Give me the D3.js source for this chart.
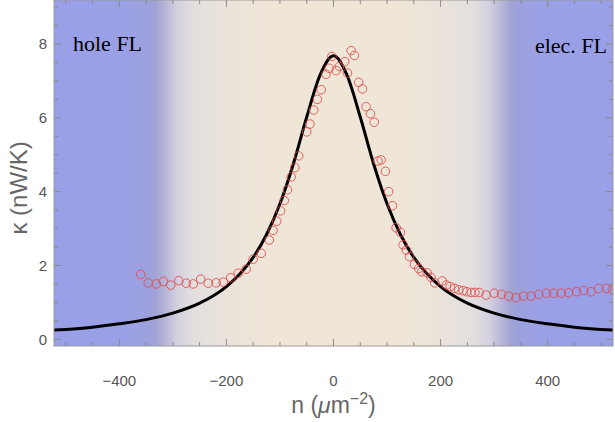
<!DOCTYPE html>
<html>
<head>
<meta charset="utf-8">
<script src="https://cdn.jsdelivr.net/npm/d3@7"></script>
<style>
  body { margin: 0; background: #fff; }
  svg { display: block; }
</style>
</head>
<body>
<svg id="chart" width="615" height="422"></svg>
<script>
// measured points (red circles)
var pointN = [-360, -346, -331, -318, -304, -289, -275, -262, -248, -234, -219, -206, -192, -178, -163, -150, -135, -120,
  -113, -106, -99, -92, -86, -79, -72, -65, -50, -44, -37, -30, -23, -14, -8, -3, 5, 11, 21, 26, 33, 39,
  47, 54, 61, 69, 76, 83, 89, 97, 103, 110, 117, 125, 130, 136, 142, 151, 159, 165, 175, 182, 189, 203, 211,
  218, 226, 234, 242, 249, 257, 264, 272, 285, 300, 314, 327, 341, 355, 369, 383, 398, 411, 425, 439, 454, 467, 481, 495, 510, 521]
var pointK = [1.76, 1.53, 1.50, 1.57, 1.47, 1.59, 1.52, 1.50, 1.63, 1.52, 1.53, 1.55, 1.67, 1.79, 1.90, 2.17, 2.33, 2.69,
  2.95, 3.2, 3.48, 3.76, 4.05, 4.4, 4.65, 4.97, 5.62, 5.83, 6.21, 6.50, 6.76, 7.18, 7.34, 7.66, 7.28, 7.39, 7.52, 7.21, 7.82, 7.69,
  6.96, 6.78, 6.30, 6.11, 5.88, 4.83, 4.86, 4.55, 4.0, 3.62, 3.02, 2.90, 2.56, 2.42, 2.24, 2.03, 1.92, 1.83, 1.80, 1.68, 1.53, 1.58, 1.47,
  1.43, 1.38, 1.34, 1.32, 1.29, 1.27, 1.27, 1.27, 1.20, 1.25, 1.22, 1.17, 1.13, 1.17, 1.17, 1.22, 1.25, 1.25, 1.25, 1.26, 1.29, 1.32, 1.29, 1.38, 1.38, 1.35]

// theory curve (black line)
var curveN = [-522, -450, -400, -350, -300, -250, -200, -175, -150, -125, -100, -75, -50, -25, 0, 25, 50, 75, 100, 125, 150, 175, 200, 250, 300, 350, 400, 450, 522]
var curveK = [0.25, 0.33, 0.42, 0.535, 0.71, 0.98, 1.43, 1.77, 2.22, 2.84, 3.67, 4.75, 6.02, 7.16, 7.68, 7.16, 6.02, 4.75, 3.67, 2.84, 2.22, 1.77, 1.43, 0.98, 0.71, 0.535, 0.42, 0.33, 0.25]

var xTicks = [-400, -200, 0, 200, 400]
var yTicks = [0, 2, 4, 6, 8]

// background shading (blue = Fermi liquid, beige = Dirac fluid)
var bgStops = [[-522, "#9aa0e8"], [-390, "#9aa0e6"], [-345, "#9ca1dc"], [-332, "#a0a3d4"], [-310, "#bcbbd9"],
  [-290, "#d5d1de"], [-262, "#e3dfdf"], [-200, "#ebe3da"], [-120, "#efe6d8"], [0, "#f0e6d6"],
  [120, "#efe6d8"], [200, "#ebe3da"], [262, "#e3dfdf"], [290, "#d5d1de"], [310, "#bcbbd9"],
  [332, "#a0a3d4"], [345, "#9ca1dc"], [390, "#9aa0e6"], [522, "#9aa0e8"]]

var svg = d3.select("#chart")
var margin = {left: 54, right: 2, top: 0, bottom: 76}
var width = 615 - margin.left - margin.right
var height = 422 - margin.top - margin.bottom

var x = d3.scaleLinear().domain([-522, 522]).range([0, width])
var y = d3.scaleLinear().domain([-0.18, 9.19]).range([height, 0])

var g = svg.append("g").attr("transform", `translate(${margin.left},${margin.top})`)

var grad = svg.append("defs").append("linearGradient")
  .attr("id", "bg").attr("x1", "0").attr("x2", "1").attr("y1", "0").attr("y2", "0")
grad.selectAll("stop").data(bgStops).enter().append("stop")
  .attr("offset", d => (x(d[0]) / width))
  .attr("stop-color", d => d[1])

g.append("rect").attr("width", width).attr("height", height).attr("fill", "url(#bg)")

svg.append("clipPath").attr("id", "clip").append("rect").attr("width", width).attr("height", height)
var plot = g.append("g").attr("clip-path", "url(#clip)")

// frame ticks (inside, all four sides)
var tickColor = "#8a8a8a"
var xMinor = d3.range(-500, 501, 50)
var yMinor = d3.range(0, 9.01, 0.5)
function tickLen(v, majors) { return majors.indexOf(v) >= 0 ? 7 : 4 }

xMinor.forEach(function (v) {
  var L = tickLen(v, xTicks)
  g.append("line").attr("x1", x(v)).attr("x2", x(v)).attr("y1", height).attr("y2", height - L).attr("stroke", tickColor)
  g.append("line").attr("x1", x(v)).attr("x2", x(v)).attr("y1", 0).attr("y2", L).attr("stroke", tickColor)
})
yMinor.forEach(function (v) {
  var L = tickLen(v, yTicks)
  g.append("line").attr("y1", y(v)).attr("y2", y(v)).attr("x1", 0).attr("x2", L).attr("stroke", tickColor)
  g.append("line").attr("y1", y(v)).attr("y2", y(v)).attr("x1", width).attr("x2", width - L).attr("stroke", tickColor)
})

g.append("rect").attr("width", width).attr("height", height)
  .attr("fill", "none").attr("stroke", "#999").attr("stroke-width", 1)

// tick labels
g.selectAll(".xl").data(xTicks).enter().append("text")
  .attr("x", d => x(d)).attr("y", height + 40)
  .attr("text-anchor", "middle")
  .style("font", "15px 'Liberation Sans', Arial, sans-serif").attr("fill", "#555")
  .text(d => d3.format("")(d).replace("-", "\u2212"))
g.selectAll(".yl").data(yTicks).enter().append("text")
  .attr("x", -7).attr("y", d => y(d) + 5.5)
  .attr("text-anchor", "end")
  .style("font", "15px 'Liberation Sans', Arial, sans-serif").attr("fill", "#555")
  .text(d => d)

// theory line
var line = d3.line().x(d => x(d[0])).y(d => y(d[1])).curve(d3.curveMonotoneX)
plot.append("path").datum(d3.zip(curveN, curveK))
  .attr("d", line).attr("fill", "none").attr("stroke", "#000").attr("stroke-width", 3)

// data circles
plot.selectAll(".pt").data(d3.zip(pointN, pointK)).enter().append("circle")
  .attr("cx", d => x(d[0])).attr("cy", d => y(d[1])).attr("r", 4.3)
  .attr("fill", "none").attr("stroke", "#e04848").attr("stroke-opacity", 0.85).attr("stroke-width", 1)

// region labels
g.append("text").attr("x", 19).attr("y", 51)
  .style("font", "22px 'Liberation Serif', 'Times New Roman', serif").text("hole FL")
g.append("text").attr("x", width - 6).attr("y", 53).attr("text-anchor", "end")
  .style("font", "22px 'Liberation Serif', 'Times New Roman', serif").text("elec. FL")

// axis titles
var xt = svg.append("text").attr("x", margin.left + x(0)).attr("y", 413).attr("text-anchor", "middle")
  .style("font", "23px 'Liberation Sans', Arial, sans-serif").attr("fill", "#666")
xt.append("tspan").text("n (")
xt.append("tspan").style("font-style", "italic").text("\u03bc")
xt.append("tspan").text("m")
xt.append("tspan").attr("dy", -9).style("font-size", "16px").text("\u22122")
xt.append("tspan").attr("dy", 9).text(")")

svg.append("text").attr("transform", `translate(27,${y(4.1) + margin.top}) rotate(-90)`)
  .attr("text-anchor", "middle")
  .style("font", "24px 'Liberation Sans', Arial, sans-serif").attr("fill", "#666")
  .text("\u03ba (nW/K)")
</script>
</body>
</html>
